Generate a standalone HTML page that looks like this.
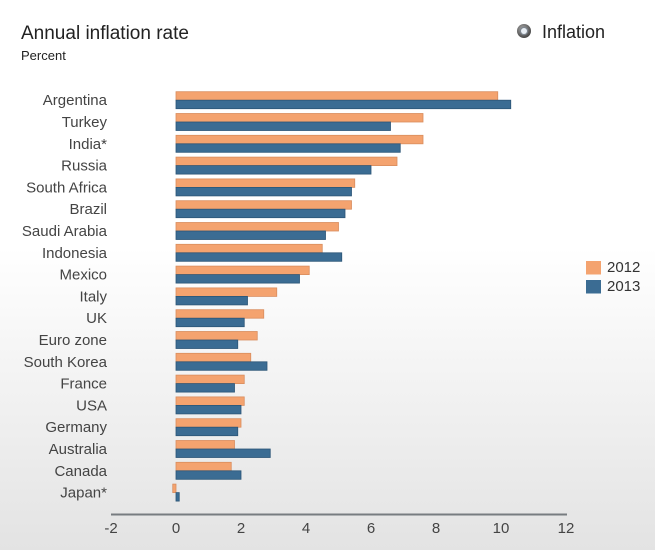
<!DOCTYPE html>
<html>
<head>
<meta charset="utf-8">
<style>
html,body{margin:0;padding:0;}
body{width:655px;height:550px;overflow:hidden;background:linear-gradient(to bottom,#ffffff 0%,#ffffff 45%,#e3e3e3 100%);font-family:"Liberation Sans",Arial,sans-serif;}
svg{position:absolute;left:0;top:0;}
</style>
</head>
<body>
<svg width="655" height="550" viewBox="0 0 655 550" xmlns="http://www.w3.org/2000/svg" font-family="Liberation Sans, Arial, sans-serif">
<defs>
<radialGradient id="ig" cx="40%" cy="35%" r="70%">
<stop offset="0%" stop-color="#a8a8a8"/>
<stop offset="100%" stop-color="#404040"/>
</radialGradient>
</defs>
<text x="21" y="39" font-size="19" fill="#222">Annual inflation rate</text>
<text x="21" y="60" font-size="13" fill="#222">Percent</text>

<circle cx="524" cy="31" r="7" fill="url(#ig)"/>
<circle cx="524" cy="31" r="4.2" fill="#7d858e"/>
<circle cx="524" cy="31" r="3" fill="#e8eef4"/>
<text x="542" y="38" font-size="18" fill="#222">Inflation</text>

<g font-size="15" fill="#444" text-anchor="end">
<text x="107" y="105.2">Argentina</text>
<text x="107" y="127">Turkey</text>
<text x="107" y="148.8">India*</text>
<text x="107" y="170.6">Russia</text>
<text x="107" y="192.4">South Africa</text>
<text x="107" y="214.2">Brazil</text>
<text x="107" y="236">Saudi Arabia</text>
<text x="107" y="257.8">Indonesia</text>
<text x="107" y="279.6">Mexico</text>
<text x="107" y="301.4">Italy</text>
<text x="107" y="323.2">UK</text>
<text x="107" y="345">Euro zone</text>
<text x="107" y="366.8">South Korea</text>
<text x="107" y="388.6">France</text>
<text x="107" y="410.4">USA</text>
<text x="107" y="432.2">Germany</text>
<text x="107" y="454">Australia</text>
<text x="107" y="475.8">Canada</text>
<text x="107" y="497.6">Japan*</text>
</g>

<g fill="#f4a36f" stroke="#d98d5e" stroke-width="0.8">
<rect x="176" y="91.7" width="321.75" height="8.5"/>
<rect x="176" y="113.5" width="247" height="8.5"/>
<rect x="176" y="135.3" width="247" height="8.5"/>
<rect x="176" y="157.1" width="221" height="8.5"/>
<rect x="176" y="178.9" width="178.75" height="8.5"/>
<rect x="176" y="200.7" width="175.5" height="8.5"/>
<rect x="176" y="222.5" width="162.5" height="8.5"/>
<rect x="176" y="244.3" width="146.25" height="8.5"/>
<rect x="176" y="266.1" width="133.25" height="8.5"/>
<rect x="176" y="287.9" width="100.75" height="8.5"/>
<rect x="176" y="309.7" width="87.75" height="8.5"/>
<rect x="176" y="331.5" width="81.25" height="8.5"/>
<rect x="176" y="353.3" width="74.75" height="8.5"/>
<rect x="176" y="375.1" width="68.25" height="8.5"/>
<rect x="176" y="396.9" width="68.25" height="8.5"/>
<rect x="176" y="418.7" width="65" height="8.5"/>
<rect x="176" y="440.5" width="58.5" height="8.5"/>
<rect x="176" y="462.3" width="55.25" height="8.5"/>
<rect x="172.75" y="484.1" width="3.25" height="8.5"/>
</g>
<g fill="#3b6c93" stroke="#2c5677" stroke-width="0.8">
<rect x="176" y="100.2" width="334.75" height="8.5"/>
<rect x="176" y="122" width="214.5" height="8.5"/>
<rect x="176" y="143.8" width="224.25" height="8.5"/>
<rect x="176" y="165.6" width="195" height="8.5"/>
<rect x="176" y="187.4" width="175.5" height="8.5"/>
<rect x="176" y="209.2" width="169" height="8.5"/>
<rect x="176" y="231" width="149.5" height="8.5"/>
<rect x="176" y="252.8" width="165.75" height="8.5"/>
<rect x="176" y="274.6" width="123.5" height="8.5"/>
<rect x="176" y="296.4" width="71.5" height="8.5"/>
<rect x="176" y="318.2" width="68.25" height="8.5"/>
<rect x="176" y="340" width="61.75" height="8.5"/>
<rect x="176" y="361.8" width="91" height="8.5"/>
<rect x="176" y="383.6" width="58.5" height="8.5"/>
<rect x="176" y="405.4" width="65" height="8.5"/>
<rect x="176" y="427.2" width="61.75" height="8.5"/>
<rect x="176" y="449" width="94.25" height="8.5"/>
<rect x="176" y="470.8" width="65" height="8.5"/>
<rect x="176" y="492.6" width="3.25" height="8.5"/>
</g>

<line x1="111" y1="514.5" x2="567" y2="514.5" stroke="#777c80" stroke-width="2"/>
<g font-size="15" fill="#444" text-anchor="middle">
<text x="111" y="533">-2</text>
<text x="176" y="533">0</text>
<text x="241" y="533">2</text>
<text x="306" y="533">4</text>
<text x="371" y="533">6</text>
<text x="436" y="533">8</text>
<text x="501" y="533">10</text>
<text x="566" y="533">12</text>
</g>

<rect x="586" y="261" width="15" height="13.5" fill="#f4a36f"/>
<rect x="586" y="280" width="15" height="13.5" fill="#3b6c93"/>
<g font-size="15" fill="#333">
<text x="607" y="272">2012</text>
<text x="607" y="291">2013</text>
</g>
</svg>
</body>
</html>
